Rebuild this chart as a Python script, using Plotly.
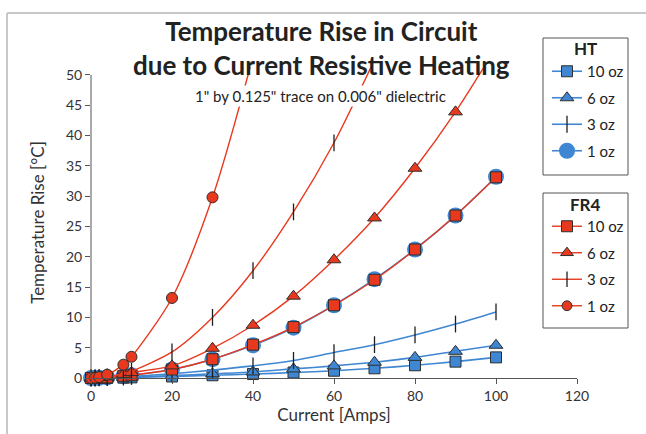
import plotly.graph_objects as go

# ---- data ----
current = [0, 1, 2, 4, 8, 10, 20, 30, 40, 50, 60, 70, 80, 90, 100]

ht_10oz = [0, 0, 0.01, 0.02, 0.06, 0.1, 0.25, 0.45, 0.65, 0.9, 1.2, 1.6, 2.1, 2.7, 3.4]
ht_6oz = [0, 0, 0.01, 0.03, 0.1, 0.15, 0.4, 0.7, 1.0, 1.5, 2.0, 2.6, 3.4, 4.4, 5.4]
ht_3oz = [0, 0, 0.02, 0.05, 0.15, 0.25, 0.7, 1.3, 2.0, 2.9, 4.2, 5.5, 7.1, 8.9, 10.9]
ht_1oz = [0, 0.01, 0.03, 0.1, 0.3, 0.45, 1.4, 3.1, 5.4, 8.3, 12.0, 16.3, 21.2, 26.8, 33.2]

fr4_10oz = [0, 0.01, 0.03, 0.09, 0.3, 0.45, 1.4, 3.1, 5.5, 8.4, 12.0, 16.2, 21.2, 26.8, 33.1]
fr4_6oz = [0, 0.02, 0.07, 0.2, 0.6, 0.9, 2.0, 4.9, 8.7, 13.5, 19.5, 26.4, 34.6, 43.9, 54.5]
fr4_3oz = [0, 0.01, 0.05, 0.18, 0.7, 1.1, 4.3, 10.0, 17.7, 27.4, 38.8, 52.5]
fr4_1oz = [0, 0.04, 0.15, 0.55, 2.2, 3.5, 13.2, 29.8, 53.0]

x_ticks = [0, 20, 40, 60, 80, 100, 120]
y_ticks = [0, 5, 10, 15, 20, 25, 30, 35, 40, 45, 50]

title_lines = ["Temperature Rise in Circuit", "due to Current Resistive Heating"]
subtitle = '1" by 0.125" trace on 0.006" dielectric'

RED = "#e8391f"
BLUE = "#3f87d2"
EDGE = "#2e2e2e"
FONT = "Lato"
Y_MAX = 51.3

# layout geometry (pixels)
W, H = 646, 434
L, R, T, B = 91, 69, 67, 56
PW, PH = W - L - R, H - T - B


def xp(px):
    return (px - L) / PW


def yp(py):
    return (H - B - py) / PH


def sizes(vals, s):
    return [s if v <= Y_MAX else 0 for v in vals]


fig = go.Figure()


def add(name, y, color, symbol, size, legend, rank, edge=True, lw=1.4):
    n = len(y)
    if symbol == "line-ns":
        marker = dict(symbol=symbol, size=sizes(y, size), opacity=1,
                      line=dict(color="#1e1e1e", width=1.3))
    else:
        marker = dict(symbol=symbol, size=sizes(y, size), color=color, opacity=1,
                      line=dict(color=EDGE if edge else color, width=1 if edge else 0))
    fig.add_trace(go.Scatter(
        x=current[:n], y=y, name=name, mode="lines+markers",
        line=dict(color=color, width=lw, shape="spline", smoothing=0.8),
        marker=marker, cliponaxis=False, legend=legend, legendrank=rank,
        legendgroup=legend + name,
    ))


add("1 oz", ht_1oz, BLUE, "circle", 16, "legend", 4, edge=False, lw=1.6)
add("10 oz", ht_10oz, BLUE, "square", 11, "legend", 1, lw=1.6)
add("6 oz", ht_6oz, BLUE, "triangle-up", 12, "legend", 2, lw=1.6)
add("3 oz", ht_3oz, BLUE, "line-ns", 12, "legend", 3, lw=1.6)
add("10 oz", fr4_10oz, RED, "square", 11, "legend2", 1)
add("6 oz", fr4_6oz, RED, "triangle-up", 12, "legend2", 2)
add("3 oz", fr4_3oz, RED, "line-ns", 12, "legend2", 3)
add("1 oz", fr4_1oz, RED, "circle", 11, "legend2", 4)

legend_common = dict(
    xanchor="left", yanchor="top", bgcolor="rgba(0,0,0,0)",
    borderwidth=0,
    font=dict(family=FONT, size=15, color="#222"),
    traceorder="grouped", tracegroupgap=4, itemwidth=30,
)

fig.update_layout(
    width=W, height=H,
    margin=dict(l=L, r=R, t=T, b=B),
    paper_bgcolor="white", plot_bgcolor="white",
    font=dict(family=FONT, color="#333"),
    showlegend=True,
    legend=dict(x=xp(547), y=yp(55), **legend_common),
    legend2=dict(x=xp(547), y=yp(210), **legend_common),
    xaxis=dict(range=[0, 120], tickvals=x_ticks, ticks="outside", ticklen=5,
               tickcolor="#555", showline=True, linecolor="#555", linewidth=1,
               showgrid=False, zeroline=False, automargin=False,
               tickfont=dict(family=FONT, size=14, color="#333"),
               title=dict(text="Current [Amps]", font=dict(family=FONT, size=17, color="#333"),
                          standoff=3)),
    yaxis=dict(range=[0, Y_MAX], tickvals=y_ticks, ticks="outside", ticklen=5,
               tickcolor="#555", showline=False, showgrid=False, zeroline=False, automargin=False,
               tickfont=dict(family=FONT, size=14, color="#333"),
               title=dict(text="Temperature Rise [°C]", font=dict(family=FONT, size=17, color="#333"),
                          standoff=17)),
)

# y axis line only up to 50
fig.add_shape(type="line", xref="paper", yref="y", x0=0, x1=0, y0=0, y1=50,
              line=dict(color="#555", width=1))
# outer frame (left & top edges of the figure box)
fig.add_shape(type="line", xref="paper", yref="paper", x0=xp(7), x1=xp(650), y0=yp(13), y1=yp(13),
              line=dict(color="#c8c8c8", width=2))
fig.add_shape(type="line", xref="paper", yref="paper", x0=xp(7), x1=xp(7), y0=yp(13), y1=yp(440),
              line=dict(color="#c8c8c8", width=2))

# legend boxes and titles
for top, bottom, title in [(38, 175, "HT"), (193, 328, "FR4")]:
    fig.add_shape(type="rect", xref="paper", yref="paper", x0=xp(543), x1=xp(628),
                  y0=yp(bottom), y1=yp(top), line=dict(color="#555", width=1),
                  fillcolor="white", layer="below")
    fig.add_annotation(xref="paper", yref="paper", x=xp(585.5), y=yp(top + 11),
                       xanchor="center", yanchor="middle", showarrow=False,
                       text=f"<b>{title}</b>", font=dict(family=FONT, size=17, color="#222"))

fig.add_annotation(xref="paper", yref="paper", x=xp(321), y=yp(48), xanchor="center",
                   yanchor="middle", text="<b>" + "<br>".join(title_lines) + "</b>",
                   showarrow=False, borderpad=0,
                   font=dict(family=FONT, size=26, color="#222"))
fig.add_annotation(xref="paper", yref="paper", x=xp(320), y=yp(96), xanchor="center", yanchor="middle",
                   text=subtitle, bgcolor="white",
                   showarrow=False, font=dict(family=FONT, size=15, color="#222"))

fig.write_html("out.html", config={"displayModeBar": False},
               post_script="document.body.style.margin='0';")
